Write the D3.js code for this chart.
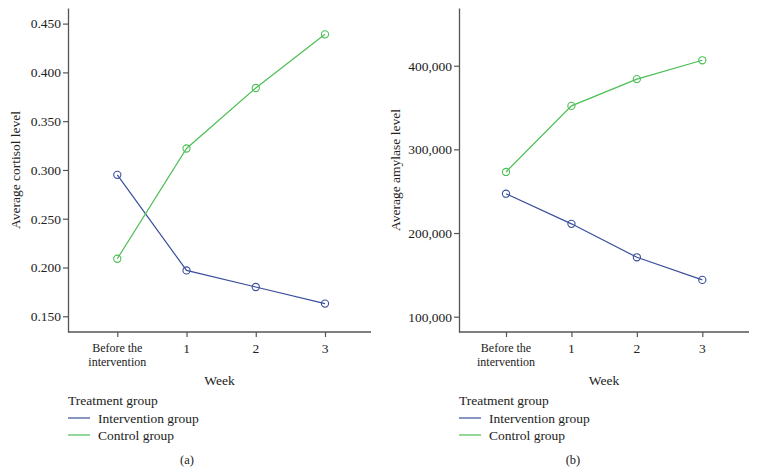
<!DOCTYPE html>
<html><head><meta charset="utf-8">
<script src="https://cdn.jsdelivr.net/npm/d3@7"></script>
<style>body{margin:0;background:#fff}svg{display:block}text{font-family:"Liberation Serif","DejaVu Serif",serif;fill:#222}</style>
</head><body><svg id="c" width="758" height="474"></svg>
<script>
const weeks = ["Before the intervention", "1", "2", "3"];
const cortisolIntervention = [0.295, 0.197, 0.180, 0.163];
const cortisolControl = [0.209, 0.322, 0.384, 0.439];
const amylaseIntervention = [247000, 211000, 171000, 144000];
const amylaseControl = [273000, 352000, 384000, 406500];
const cortisolTicks = [0.150, 0.200, 0.250, 0.300, 0.350, 0.400, 0.450];
const amylaseTicks = [100000, 200000, 300000, 400000];
const seriesNames = ["Intervention group", "Control group"];
const colors = ["#3a4f9c", "#4cbf55"];

const svg = d3.select("#c");
const FS = 13.5;

function panel(o) {
  const g = svg.append("g");
  const x = d3.scalePoint().domain(weeks).range([o.x0 + o.pad, o.x1 - o.padR]);
  const y = d3.scaleLinear().domain(o.domain).range([332, 8]);
  const ya = g.append("g").attr("transform", `translate(${o.x0},0)`)
    .call(d3.axisLeft(y).tickValues(o.ticks).tickFormat(o.fmt).tickSize(5).tickSizeOuter(0));
  const xa = g.append("g").attr("transform", `translate(0,332)`)
    .call(d3.axisBottom(x).tickSize(5).tickSizeOuter(0));
  xa.selectAll(".tick text").remove();
  xa.select(".domain").attr("d", `M${o.x0},0H${o.x1}`);
  [ya, xa].forEach(a => {
    a.select(".domain").attr("stroke", "#555").attr("stroke-width", 1.3);
    a.selectAll(".tick line").attr("stroke", "#555").attr("stroke-width", 1.2);
    a.selectAll("text").attr("font-size", FS).attr("fill", "#222")
      .style("font-family", '"Liberation Serif","DejaVu Serif",serif');
  });
  ya.selectAll(".tick text").attr("x", -7);
  weeks.forEach(w => {
    const parts = w === "Before the intervention" ? ["Before the", "intervention"] : [w];
    parts.forEach((p, i) => g.append("text").attr("text-anchor", "middle")
      .attr("font-size", parts.length > 1 ? 12 : FS)
      .attr("x", x(w)).attr("y", (parts.length > 1 ? 352 : 353) + i * 13.5).text(p));
  });
  g.append("text").attr("text-anchor", "middle").attr("font-size", FS)
    .attr("x", (o.x0 + o.x1) / 2).attr("y", 385).text("Week");
  g.append("text").attr("text-anchor", "middle").attr("font-size", FS)
    .attr("transform", `translate(${o.ylabX},170) rotate(-90)`).text(o.ylabel);
  const line = d3.line().x((d, i) => x(weeks[i])).y(d => y(d));
  o.series.forEach((s, k) => {
    g.append("path").attr("d", line(s)).attr("fill", "none").attr("stroke", colors[k]).attr("stroke-width", 1.2);
    g.selectAll(null).data(s).enter().append("circle")
      .attr("cx", (d, i) => x(weeks[i])).attr("cy", d => y(d)).attr("r", 3.6)
      .attr("fill", "none").attr("stroke", colors[k]).attr("stroke-width", 1.1);
  });
  g.append("text").attr("font-size", FS).attr("x", o.x0).attr("y", 404.5).text("Treatment group");
  seriesNames.forEach((n, k) => {
    const yy = 418 + k * 17;
    g.append("line").attr("x1", o.x0).attr("x2", o.x0 + 22).attr("y1", yy).attr("y2", yy)
      .attr("stroke", colors[k]).attr("stroke-width", 1.2);
    g.append("text").attr("font-size", FS).attr("x", o.x0 + 30).attr("y", yy + 4.5).text(n);
  });
  g.append("text").attr("text-anchor", "middle").attr("font-size", 12.5)
    .attr("x", o.labelX).attr("y", 464).text(o.label);
}

panel({x0: 68, x1: 371, pad: 49.3, padR: 46, domain: [0.1339, 0.466], ticks: cortisolTicks,
  fmt: d3.format(".3f"), ylabel: "Average cortisol level", ylabX: 20,
  series: [cortisolIntervention, cortisolControl], label: "(a)", labelX: 187});
panel({x0: 459, x1: 749, pad: 47, padR: 46.7, domain: [81700, 469000], ticks: amylaseTicks,
  fmt: d3.format(","), ylabel: "Average amylase level", ylabX: 400,
  series: [amylaseIntervention, amylaseControl], label: "(b)", labelX: 573});
</script></body></html>
